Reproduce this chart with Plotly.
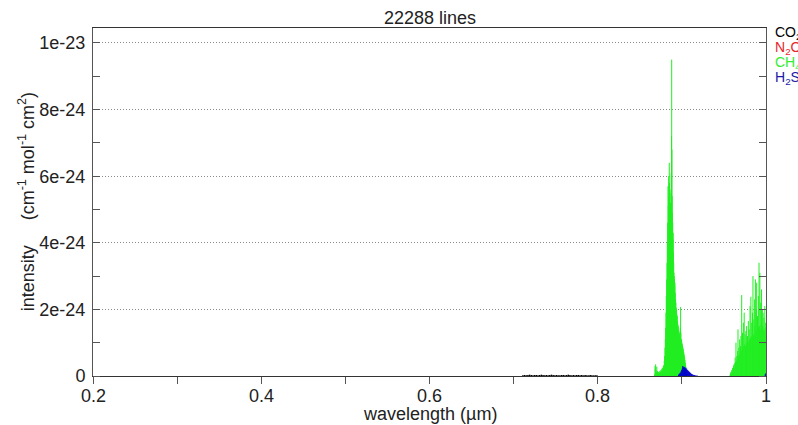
import plotly.graph_objects as go

# Line lists: wavelength (um) and line intensity in units of 1e-24 cm^-1 mol^-1 cm^2
ch4_wl = [
    0.8676, 0.8681, 0.8684, 0.8688, 0.8692, 0.8697, 0.8702, 0.8706, 0.8711, 0.8716,
    0.8721, 0.8726, 0.8731, 0.8736, 0.8741, 0.8746, 0.8751, 0.8756, 0.8761, 0.8766,
    0.8771, 0.8776, 0.8781, 0.8786, 0.8791, 0.8795, 0.8799, 0.8803, 0.8807, 0.8811,
    0.8815, 0.8819, 0.8823, 0.8827, 0.8831, 0.8835, 0.8839, 0.8843, 0.8847, 0.8850,
    0.8853, 0.8856, 0.8859, 0.8862, 0.8865, 0.8868, 0.8871, 0.8874, 0.8877, 0.8879,
    0.8882, 0.8885, 0.8888, 0.8891, 0.8894, 0.8897, 0.8900, 0.8903, 0.8906, 0.8909,
    0.8912, 0.8915, 0.8918, 0.8921, 0.8925, 0.8929, 0.8933, 0.8937, 0.8941, 0.8945,
    0.8949, 0.8953, 0.8957, 0.8961, 0.8965, 0.8969, 0.8973, 0.8977, 0.8981, 0.8985,
    0.8989, 0.8993, 0.8997, 0.9001, 0.9005, 0.9009, 0.9013, 0.9017, 0.9021, 0.9025,
    0.9029, 0.9033, 0.9037, 0.9041, 0.9045, 0.9049, 0.9053, 0.9057,
    0.9573, 0.9578, 0.9583, 0.9588, 0.9593, 0.9598, 0.9603, 0.9608, 0.9613, 0.9618, 0.9623,
    0.9628, 0.9633, 0.9638, 0.9643, 0.9648, 0.9653, 0.9658, 0.9663, 0.9667, 0.9672,
    0.9677, 0.9682, 0.9687, 0.9692, 0.9697, 0.9702, 0.9707, 0.9711, 0.9716, 0.9721,
    0.9726, 0.9731, 0.9736, 0.9741, 0.9746, 0.9751, 0.9756, 0.9761, 0.9766, 0.9770,
    0.9775, 0.9780, 0.9785, 0.9790, 0.9795, 0.9800, 0.9805, 0.9810, 0.9815, 0.9820,
    0.9825, 0.9830, 0.9835, 0.9840, 0.9845, 0.9850, 0.9855, 0.9860, 0.9865, 0.9869,
    0.9874, 0.9879, 0.9884, 0.9889, 0.9894, 0.9899, 0.9904, 0.9909, 0.9913, 0.9917,
    0.9922, 0.9927, 0.9932, 0.9937, 0.9942, 0.9947, 0.9952, 0.9957, 0.9962, 0.9966,
    0.9971, 0.9976, 0.9981, 0.9986, 0.9991, 0.9996,
]
ch4_int = [
    0.05, 0.30, 0.22, 0.35, 0.18, 0.12, 0.28, 0.10, 0.15, 0.08,
    0.12, 0.10, 0.14, 0.09, 0.16, 0.12, 0.18, 0.14, 0.22, 0.17,
    0.25, 0.20, 0.32, 0.28, 0.45, 0.60, 0.85, 1.10, 1.45, 1.90,
    2.40, 2.90, 3.40, 4.00, 4.60, 5.70, 5.10, 6.00, 5.40, 6.40,
    5.80, 5.00, 5.50, 4.90, 5.20, 4.70, 5.60, 6.10, 7.20, 9.50,
    6.80, 5.40, 4.90, 4.60, 4.10, 4.30, 3.70, 3.40, 3.10, 3.00,
    2.90, 2.70, 2.80, 2.50, 2.30, 2.20, 2.05, 2.00, 1.85, 1.80,
    1.65, 1.55, 1.50, 1.40, 1.35, 1.30, 1.25, 1.20, 1.45, 2.07,
    1.30, 1.10, 1.10, 1.00, 0.95, 0.90, 0.85, 0.80, 0.72, 0.68,
    0.62, 0.55, 0.48, 0.40, 0.32, 0.25, 0.15, 0.06,
    0.04, 0.08, 0.12, 0.10, 0.18, 0.14, 0.24, 0.20, 0.30, 0.35, 0.26,
    0.38, 0.55, 0.42, 1.00, 0.45, 0.60, 0.50, 0.75, 1.40, 0.60,
    0.85, 0.65, 1.10, 0.70, 0.90, 1.20, 0.75, 2.43, 0.80, 1.30,
    0.85, 1.60, 0.90, 1.90, 0.95, 1.25, 0.90, 1.35, 1.00, 1.50,
    0.95, 1.20, 1.05, 1.65, 1.00, 1.40, 1.10, 2.10, 1.15, 2.38,
    1.20, 1.60, 1.15, 1.90, 3.00, 1.25, 1.70, 1.20, 2.30, 1.50,
    2.90, 1.30, 2.00, 2.80, 1.35, 1.80, 1.30, 2.40, 1.45, 3.40,
    1.50, 3.10, 1.40, 2.20, 1.55, 2.60, 1.45, 2.00, 1.50, 1.90,
    1.40, 1.75, 1.35, 2.10, 1.45, 1.60,
]

h2s_wl = [
    0.8960, 0.8968, 0.8975, 0.8982, 0.8990, 0.8997, 0.9004, 0.9010, 0.9016, 0.9022,
    0.9028, 0.9034, 0.9040, 0.9046, 0.9052, 0.9058, 0.9064, 0.9070, 0.9076, 0.9082,
    0.9088, 0.9094, 0.9100, 0.9108, 0.9116, 0.9124, 0.9132, 0.9140, 0.9150, 0.9160,
    0.9172, 0.9185, 0.9990, 0.9998,
]
h2s_int = [
    0.04, 0.06, 0.08, 0.10, 0.14, 0.18, 0.22, 0.30, 0.25, 0.28,
    0.24, 0.27, 0.22, 0.25, 0.20, 0.22, 0.17, 0.18, 0.14, 0.15,
    0.11, 0.12, 0.09, 0.08, 0.06, 0.05, 0.04, 0.03, 0.025, 0.02,
    0.015, 0.01, 0.05, 0.08,
]

co2_wl = [
    0.711, 0.713, 0.715, 0.717, 0.719, 0.721, 0.723, 0.725, 0.727, 0.729,
    0.731, 0.733, 0.735, 0.737, 0.739, 0.741, 0.743, 0.745, 0.747, 0.749,
    0.751, 0.753, 0.755, 0.757, 0.759, 0.761, 0.763, 0.765, 0.767, 0.769,
    0.771, 0.773, 0.775, 0.777, 0.779, 0.781, 0.783, 0.785, 0.787, 0.789,
    0.791, 0.793, 0.795, 0.797, 0.799,
]
co2_int = [
    0.02, 0.03, 0.02, 0.03, 0.04, 0.03, 0.02, 0.03, 0.03, 0.02,
    0.03, 0.04, 0.03, 0.02, 0.03, 0.02, 0.03, 0.04, 0.03, 0.02,
    0.03, 0.02, 0.02, 0.03, 0.03, 0.02, 0.03, 0.04, 0.03, 0.02,
    0.03, 0.02, 0.03, 0.03, 0.02, 0.03, 0.02, 0.03, 0.02, 0.02,
    0.03, 0.02, 0.02, 0.02, 0.02,
]

UNIT = 1e-24

y_tickvals = [0, 2e-24, 4e-24, 6e-24, 8e-24, 1e-23]
y_ticktext = ["0", "2e-24", "4e-24", "6e-24", "8e-24", "1e-23"]
x_tickvals = [0.2, 0.4, 0.6, 0.8, 1.0]
x_ticktext = ["0.2", "0.4", "0.6", "0.8", "1"]

species_labels = ["CO<sub>2</sub>", "N<sub>2</sub>O", "CH<sub>4</sub>", "H<sub>2</sub>S"]
species_colors = ["#000000", "#e8262a", "#33ee33", "#1a1aa6"]

FONT = "Liberation Sans, Arial, sans-serif"
TEXT = "#222222"


def sticks(wl, inten):
    xs, ys = [], []
    for w, v in zip(wl, inten):
        xs += [w, w, None]
        ys += [0, v * UNIT, None]
    return xs, ys


fig = go.Figure()
for wl, inten, color, width in [
    (co2_wl, co2_int, "#000000", 1.5),
    (ch4_wl, ch4_int, "#22ee22", 1),
    (h2s_wl, h2s_int, "#0000cc", 1),
]:
    xs, ys = sticks(wl, inten)
    fig.add_trace(go.Scatter(x=xs, y=ys, mode="lines",
                             line=dict(color=color, width=width),
                             hoverinfo="skip", showlegend=False))

axis_color = "#555555"

fig.update_xaxes(
    range=[0.2, 1.0], tickvals=x_tickvals, showticklabels=False,
    ticks="outside", ticklen=7, tickcolor=axis_color,
    minor=dict(dtick=0.1, ticks="outside", ticklen=7, tickcolor=axis_color),
    showline=True, linecolor="#333333", linewidth=1, mirror=True,
    showgrid=False, zeroline=False,
)
fig.update_yaxes(
    range=[0, 1.045e-23], tickvals=y_tickvals, ticktext=y_ticktext,
    ticks="", ticklabelstandoff=3,
    minor=dict(dtick=1e-24, ticks="inside", ticklen=7, tickcolor=axis_color),
    showline=True, linecolor=axis_color, linewidth=1, mirror="ticks",
    showgrid=True, gridcolor="#8a8a8a", griddash="1px,2px", gridwidth=1,
    zeroline=False,
    tickfont=dict(family=FONT, size=18, color=TEXT),
)

annotations = [
    dict(text="22288 lines", xref="paper", yref="paper", x=0.5, y=1,
         xanchor="center", yanchor="bottom", yshift=-2, showarrow=False,
         font=dict(family=FONT, size=18, color=TEXT)),
    dict(text="wavelength (\u00b5m)", xref="paper", yref="paper", x=0.5, y=-0.108,
         xanchor="center", yanchor="middle", showarrow=False,
         font=dict(family=FONT, size=18, color=TEXT)),
    dict(text="intensity&nbsp;&nbsp;&nbsp;&nbsp;&nbsp;(cm<sup>-1</sup> mol<sup>-1</sup> cm<sup>2</sup>)",
         xref="paper", yref="paper", x=-0.099, y=0.5, textangle=-90,
         xanchor="center", yanchor="middle", showarrow=False,
         font=dict(family=FONT, size=18, color=TEXT)),
]
# x tick labels placed on the data axis just below the tick marks
for v, t in zip(x_tickvals, x_ticktext):
    annotations.append(dict(
        text=t, xref="x", yref="paper", x=v, y=-0.057,
        xanchor="center", yanchor="middle", showarrow=False,
        font=dict(family=FONT, size=18, color=TEXT)))
for i, (lab, col) in enumerate(zip(species_labels, species_colors)):
    annotations.append(dict(
        text=lab, xref="paper", yref="paper", x=1.011, y=0.986 - i * 0.043,
        xanchor="left", yanchor="middle", showarrow=False,
        font=dict(family=FONT, size=14, color=col)))

fig.update_layout(
    width=798, height=425,
    margin=dict(l=93, r=32, t=28, b=49),
    paper_bgcolor="white", plot_bgcolor="white",
    annotations=annotations,
)

fig.write_html("out.html")
